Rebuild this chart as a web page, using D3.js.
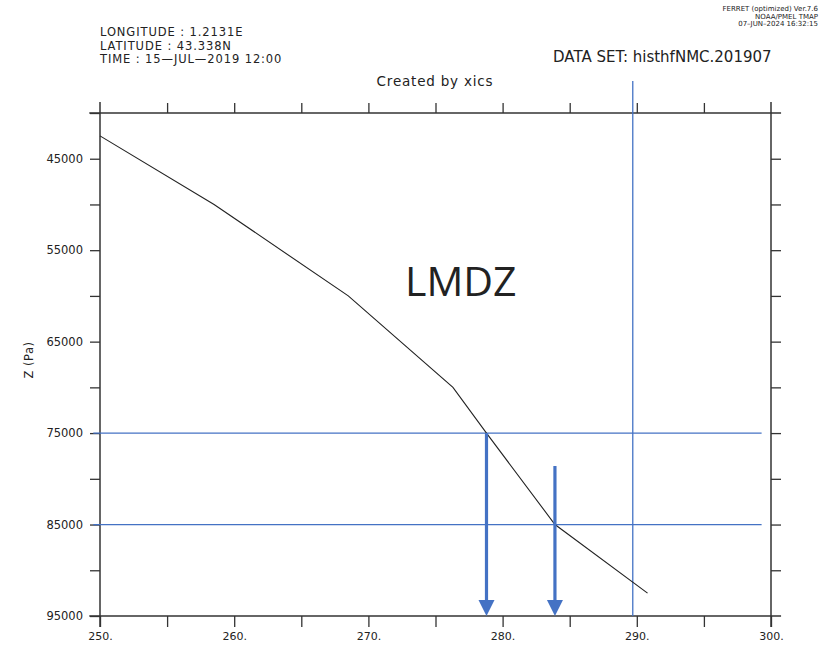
<!DOCTYPE html>
<html>
<head>
<meta charset="utf-8">
<script src="https://cdn.jsdelivr.net/npm/d3@7"></script>
<style>
  body { margin: 0; background: #fff; }
  svg { display: block; }
  text { font-family: "DejaVu Sans", sans-serif; fill: #222; }
</style>
</head>
<body>
<svg id="chart"></svg>
<script>
// profile: temperature (K) vs pressure (Pa)
const pressure = [42500, 50000, 60000, 70000, 75000, 85000, 92500];
const temperature = [250.0, 258.5, 268.5, 276.3, 278.8, 283.9, 290.8];

const xTicks = [250, 255, 260, 265, 270, 275, 280, 285, 290, 295, 300];
const xLabels = [250, 260, 270, 280, 290, 300];
const yTicks = [40000, 45000, 50000, 55000, 60000, 65000, 70000, 75000, 80000, 85000, 90000, 95000];
const yLabels = [45000, 55000, 65000, 75000, 85000, 95000];

// reference lines and arrows (blue overlay)
const hLines = [75000, 85000];
const vLine = 289.7;
const arrowT = [278.8, 283.9];
const arrowTop = [75000, 78600];

const header = ['LONGITUDE : 1.2131E', 'LATITUDE : 43.338N', 'TIME : 15\u2014JUL\u20142019 12:00'];
const ferret = ['FERRET (optimized) Ver.7.6', 'NOAA/PMEL TMAP', '07\u2013JUN\u20132024 16:32:15'];

const W = 823, H = 648;
const blue = '#4472c4';
const axisCol = '#333';

const svg = d3.select('#chart').attr('width', W).attr('height', H);

const x = d3.scaleLinear().domain([250, 300]).range([100, 771]);
const y = d3.scaleLinear().domain([40000, 95000]).range([113, 616]);

// frame lines (cross slightly at the corners, ferret style)
[40000, 95000].forEach(p => {
  svg.append('line')
    .attr('x1', x(249.2)).attr('x2', x(300.75))
    .attr('y1', y(p)).attr('y2', y(p))
    .attr('stroke', axisCol).attr('stroke-width', 1.5);
});
[250, 300].forEach(t => {
  svg.append('line')
    .attr('x1', x(t)).attr('x2', x(t))
    .attr('y1', y(38800)).attr('y2', y(96200))
    .attr('stroke', axisCol).attr('stroke-width', 1.5);
});

function styleAxis(g) {
  g.select('.domain').remove();
  g.selectAll('.tick line').attr('stroke', axisCol).attr('stroke-width', 1.3);
  g.selectAll('.tick text').attr('fill', '#222')
    .style('font-family', '"DejaVu Sans", sans-serif');
}

const gx = svg.append('g')
  .attr('transform', `translate(0,${y(95000)})`)
  .call(d3.axisBottom(x).tickValues(xTicks).tickSize(11).tickSizeOuter(0)
    .tickFormat(d => xLabels.includes(d) ? d + '.' : ''));
styleAxis(gx);
gx.selectAll('.tick text').attr('font-size', 11).attr('dy', '0.95em');

const gxTop = svg.append('g')
  .attr('transform', `translate(0,${y(40000)})`)
  .call(d3.axisTop(x).tickValues(xTicks.filter(d => d > 250 && d < 300)).tickSize(10).tickSizeOuter(0).tickFormat(''));
styleAxis(gxTop);

const gy = svg.append('g')
  .attr('transform', `translate(${x(250)},0)`)
  .call(d3.axisLeft(y).tickValues(yTicks).tickSize(10).tickSizeOuter(0)
    .tickFormat(d => yLabels.includes(d) ? d : ''));
styleAxis(gy);
gy.selectAll('.tick text').attr('font-size', 11.5).attr('x', -17);

const gyRight = svg.append('g')
  .attr('transform', `translate(${x(300)},0)`)
  .call(d3.axisRight(y).tickValues(yTicks.filter(d => d > 40000 && d < 95000)).tickSize(10).tickSizeOuter(0).tickFormat(''));
styleAxis(gyRight);

// blue reference lines
svg.selectAll('.hline')
  .data(hLines)
  .enter()
  .append('line')
  .attr('class', 'hline')
  .attr('x1', x(249.5)).attr('x2', x(299.3))
  .attr('y1', d => y(d)).attr('y2', d => y(d))
  .attr('stroke', blue).attr('stroke-width', 1.3);

svg.append('line')
  .attr('x1', x(vLine)).attr('x2', x(vLine))
  .attr('y1', y(36500)).attr('y2', y(95000))
  .attr('stroke', blue).attr('stroke-width', 1.3);

// profile line
const pts = pressure.map((p, i) => ({ p: p, t: temperature[i] }));
svg.append('path')
  .datum(pts)
  .attr('fill', 'none')
  .attr('stroke', '#222')
  .attr('stroke-width', 1.1)
  .attr('d', d3.line().x(d => x(d.t)).y(d => y(d.p)));

// arrows
const arrows = arrowT.map((t, i) => ({ t: t, top: arrowTop[i] }));
svg.selectAll('.arrow-shaft')
  .data(arrows)
  .enter()
  .append('line')
  .attr('class', 'arrow-shaft')
  .attr('x1', d => x(d.t)).attr('x2', d => x(d.t))
  .attr('y1', d => y(d.top)).attr('y2', y(95000) - 14)
  .attr('stroke', blue).attr('stroke-width', 3.2);
svg.selectAll('.arrow-head')
  .data(arrows)
  .enter()
  .append('path')
  .attr('class', 'arrow-head')
  .attr('fill', blue)
  .attr('d', d => {
    const cx = x(d.t), by = y(95000);
    return `M${cx - 8},${by - 16}L${cx + 8},${by - 16}L${cx},${by}Z`;
  });

// texts
svg.append('text')
  .attr('x', 405).attr('y', 296)
  .style('font-family', '"Open Sans", "Noto Sans", sans-serif')
  .attr('font-size', 41)
  .attr('fill', '#111')
  .text('LMDZ');

svg.append('text')
  .attr('x', 33).attr('y', 360)
  .attr('text-anchor', 'middle')
  .attr('font-size', 11.5)
  .attr('letter-spacing', 0.5)
  .attr('transform', 'rotate(-90,33,360)')
  .text('Z (Pa)');

svg.selectAll('.header')
  .data(header)
  .enter()
  .append('text')
  .attr('class', 'header')
  .attr('x', 100)
  .attr('y', (d, i) => 36 + i * 13.5)
  .attr('font-size', 11.5)
  .attr('letter-spacing', 0.9)
  .text(d => d);

svg.selectAll('.ferret')
  .data(ferret)
  .enter()
  .append('text')
  .attr('class', 'ferret')
  .attr('x', 818)
  .attr('y', (d, i) => 11 + i * 7.5)
  .attr('text-anchor', 'end')
  .attr('font-size', 7)
  .text(d => d);

svg.append('text')
  .attr('x', 553).attr('y', 62)
  .attr('font-size', 15)
  .text('DATA SET: histhfNMC.201907');

svg.append('text')
  .attr('x', 435).attr('y', 86)
  .attr('text-anchor', 'middle')
  .attr('font-size', 13.5)
  .attr('letter-spacing', 0.8)
  .text('Created by xics');
</script>
</body>
</html>
